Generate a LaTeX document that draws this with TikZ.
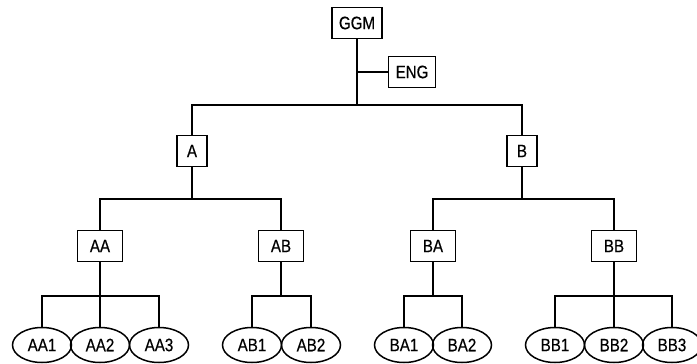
\documentclass[tikz,border=0pt]{standalone}
\usepackage{fontspec}
\setmainfont{Liberation Sans}[FakeStretch=0.84, FakeBold=0.5]
\usetikzlibrary{positioning, shapes.geometric}
\tikzset{
    box/.style={
        draw,
        line width=1.5pt,
        minimum width=45pt,
        minimum height=31pt,
        inner xsep=7pt,
        align=center
    },
    smallbox/.style={
        box,
        minimum width=30pt
    },
    leaf/.style={
        ellipse,
        draw,
        line width=1.5pt,
        minimum width=59pt,
        minimum height=35pt,
        inner sep=0pt
    },
    line/.style={line width=1.5pt},
    every node/.style={font=\fontsize{18pt}{20pt}\selectfont}
}

\begin{document}
\begin{tikzpicture}[x=1pt, y=-1pt]
\useasboundingbox (0,0) rectangle (697,364);

% top of the tree
\node[box] (ggm) at (357,23) {GGM};
\node[box] (eng) at (412,72) {ENG};

% second level
\node[smallbox] (a) at (192,151) {A};
\node[smallbox] (b) at (522,151) {B};

% third level
\node[box] (aa) at (100,246) {AA};
\node[box] (ab) at (281,246) {AB};
\node[box] (ba) at (433,246) {BA};
\node[box] (bb) at (614,246) {BB};

% leaves
\node[leaf] (aa1) at (42,345) {AA1};
\node[leaf] (aa2) at (100,345) {AA2};
\node[leaf] (aa3) at (159,345) {AA3};
\node[leaf] (ab1) at (252,345) {AB1};
\node[leaf] (ab2) at (311,345) {AB2};
\node[leaf] (ba1) at (404,345) {BA1};
\node[leaf] (ba2) at (462,345) {BA2};
\node[leaf] (bb1) at (555,345) {BB1};
\node[leaf] (bb2) at (614,345) {BB2};
\node[leaf] (bb3) at (672,345) {BB3};

% junctions
\coordinate (j0) at (357,105);
\coordinate (ja) at (192,199);
\coordinate (jb) at (522,199);
\coordinate (jaa) at (100,296);
\coordinate (jab) at (281,296);
\coordinate (jba) at (433,296);
\coordinate (jbb) at (614,296);

\draw[line] (ggm.south) -- (j0);
\draw[line] (eng.west) -- (eng.west -| ggm);
\draw[line] (a.north) |- (j0) -| (b.north);

\draw[line] (a.south) -- (ja);
\draw[line] (aa.north) |- (ja) -| (ab.north);
\draw[line] (b.south) -- (jb);
\draw[line] (ba.north) |- (jb) -| (bb.north);

\draw[line] (aa.south) -- (aa2.north);
\draw[line] (aa1.north) |- (jaa) -| (aa3.north);
\draw[line] (ab.south) -- (jab);
\draw[line] (ab1.north) |- (jab) -| (ab2.north);
\draw[line] (ba.south) -- (jba);
\draw[line] (ba1.north) |- (jba) -| (ba2.north);
\draw[line] (bb.south) -- (bb2.north);
\draw[line] (bb1.north) |- (jbb) -| (bb3.north);
\end{tikzpicture}
\end{document}
